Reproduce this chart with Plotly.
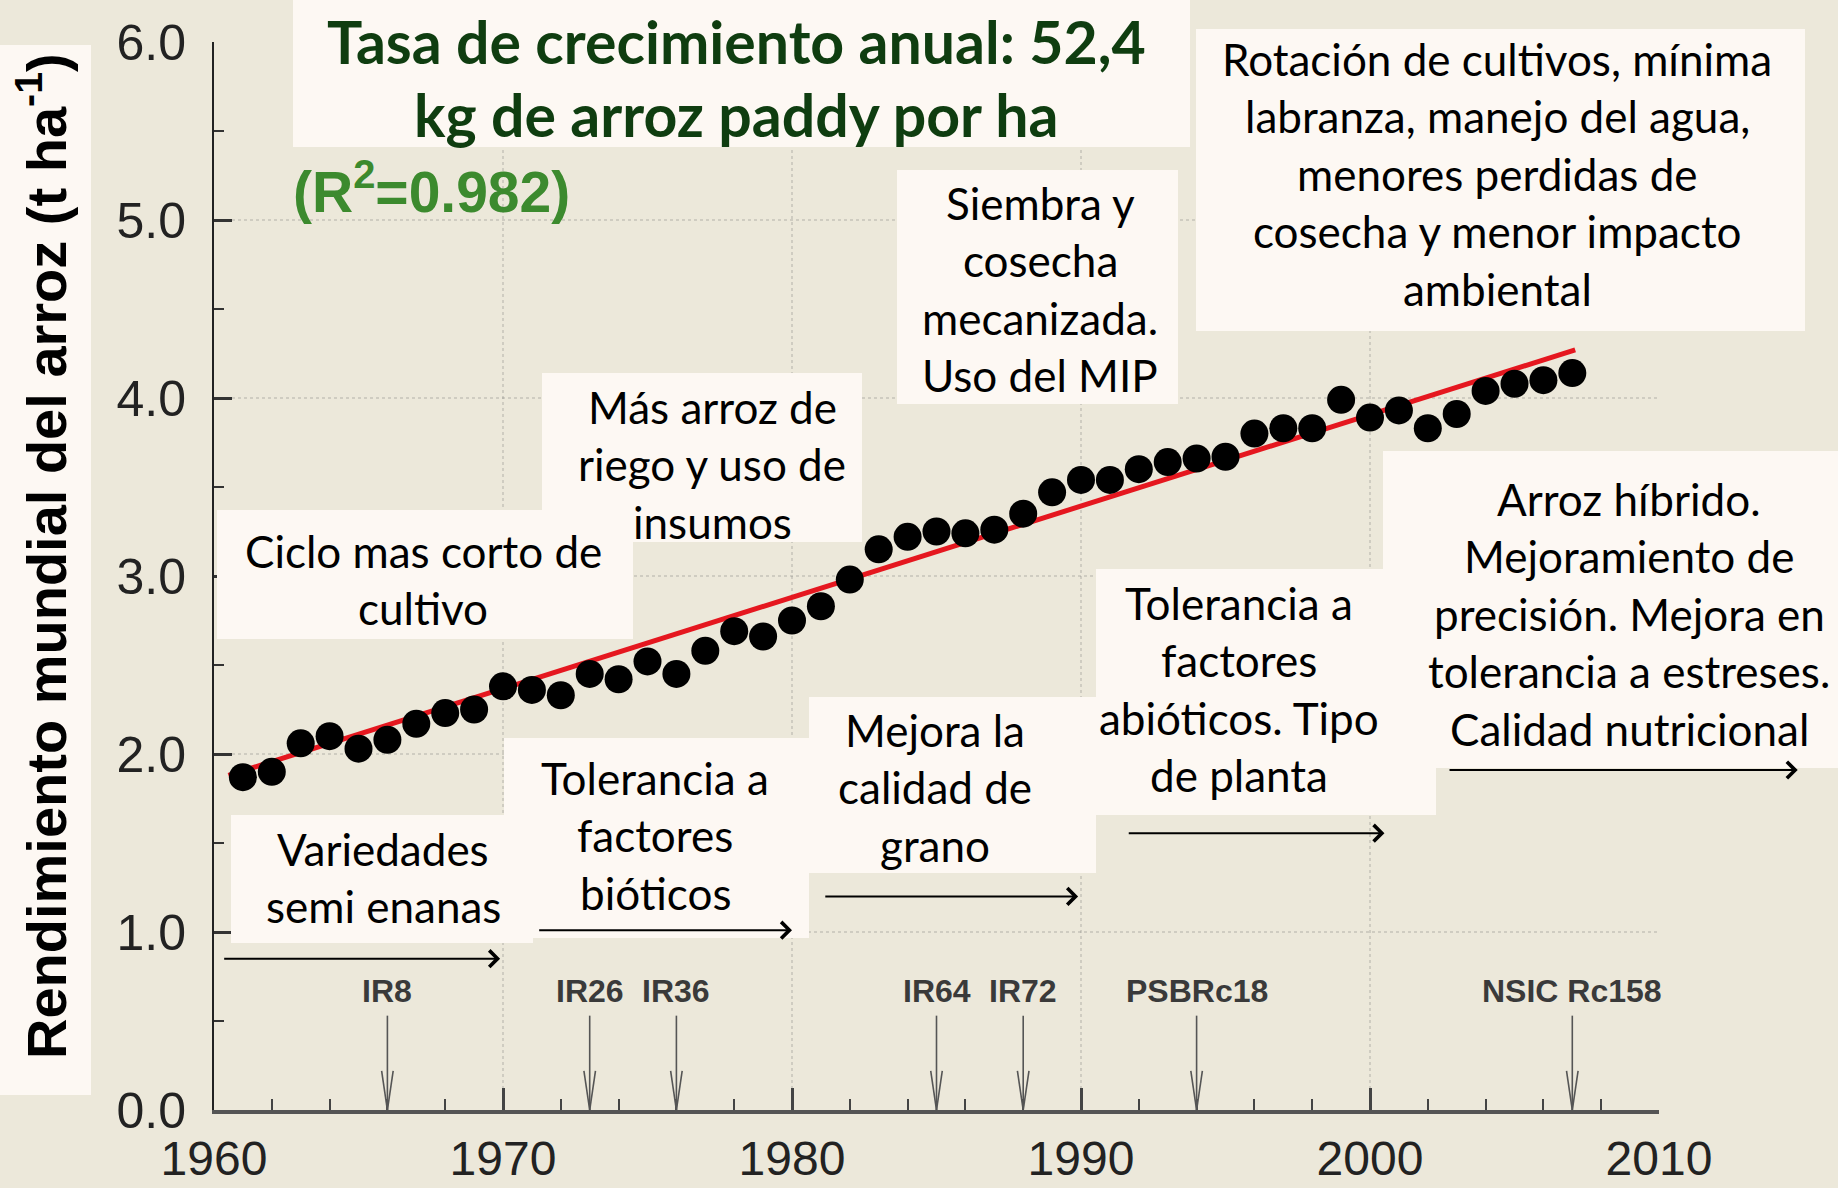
import plotly.graph_objects as go

# ---------------- data ----------------
years = list(range(1961, 2008))
yield_t_ha = [1.87, 1.90, 2.06, 2.10, 2.03, 2.08, 2.17, 2.23, 2.25, 2.38,
              2.36, 2.33, 2.45, 2.42, 2.52, 2.45, 2.58, 2.69, 2.66, 2.75,
              2.83, 2.98, 3.15, 3.22, 3.25, 3.24, 3.26, 3.35, 3.47, 3.54,
              3.54, 3.60, 3.64, 3.66, 3.67, 3.80, 3.83, 3.83, 3.99, 3.89,
              3.93, 3.83, 3.91, 4.04, 4.08, 4.10, 4.14]

trend_years = [1960.5, 2007.1]
trend_values = [1.88, 4.27]

variety_names = ["IR8", "IR26", "IR36", "IR64", "IR72", "PSBRc18", "NSIC Rc158"]
variety_years = [1966, 1973, 1976, 1985, 1988, 1994, 2007]

period_start_years = [1960.3, 1971.2, 1981.1, 1991.6, 2002.7]
period_end_years = [1969.9, 1980.0, 1989.9, 2000.5, 2014.8]
period_levels = [0.85, 1.01, 1.20, 1.555, 1.91]

title_lines = ["Tasa de crecimiento anual: 52,4", "kg de arroz paddy por ha"]
r2_text = "(R<sup>2</sup>=0.982)"
y_title = "Rendimiento mundial del arroz (t ha<sup>-1</sup>)"

block_texts = [
    ["Rotación de cultivos, mínima", "labranza, manejo del agua,", "menores perdidas de",
     "cosecha y menor impacto", "ambiental"],
    ["Siembra y", "cosecha", "mecanizada.", "Uso del MIP"],
    ["Más arroz de", "riego y uso de", "insumos"],
    ["Ciclo mas corto de", "cultivo"],
    ["Variedades", "semi enanas"],
    ["Tolerancia a", "factores", "bióticos"],
    ["Mejora la", "calidad de", "grano"],
    ["Tolerancia a", "factores", "abióticos. Tipo", "de planta"],
    ["Arroz híbrido.", "Mejoramiento de", "precisión. Mejora en",
     "tolerancia a estreses.", "Calidad nutricional"],
]

# ---------------- layout helpers (pixel -> paper) ----------------
W, H = 1838, 1188
ML, MR, MT, MB = 214, 179, 42, 78
PW, PH = W - ML - MR, H - MT - MB


def px(x):
    return (x - ML) / PW


def py(y):
    return (H - MB - y) / PH


BG = "#ECE8DA"
BOX = "#FDF8F3"

# block centers (x, first-line y) in pixels
block_pos = [(1497, 59), (1040, 203), (712, 407), (423, 551), (383, 849),
             (655, 778), (935, 730), (1239, 603), (1629, 499)]
LINE_PITCH = 57.4

boxes = [(293, 0, 1190, 147),     # title
         (0, 45, 91, 1095),       # y title
         (1196, 29, 1805, 331),
         (897, 170, 1178, 404),
         (542, 373, 862, 542),
         (217, 510, 633, 639),
         (231, 815, 533, 943),
         (504, 738, 809, 938),
         (809, 697, 1096, 873),
         (1096, 569, 1436, 815),
         (1383, 451, 1838, 768)]

fig = go.Figure()
fig.add_trace(go.Scatter(x=trend_years, y=trend_values, mode="lines",
                         line=dict(color="#E5171F", width=5), hoverinfo="skip"))
fig.add_trace(go.Scatter(x=years, y=yield_t_ha, mode="markers",
                         marker=dict(size=28, color="black"), cliponaxis=False))

shapes = []
for (x0, y0, x1, y1) in boxes:
    shapes.append(dict(type="rect", xref="paper", yref="paper",
                       x0=px(x0), x1=px(x1), y0=py(y1), y1=py(y0),
                       fillcolor=BOX, line=dict(width=0), layer="above"))

ARROW_TOP, HEAD_H, HEAD_W = 0.53, 0.22, 0.2
for vy in variety_years:
    ln = dict(color="#555555", width=1.6)
    shapes.append(dict(type="line", xref="x", yref="y", x0=vy, x1=vy,
                       y0=ARROW_TOP, y1=0, line=ln, layer="above"))
    shapes.append(dict(type="line", xref="x", yref="y", x0=vy - HEAD_W, x1=vy,
                       y0=HEAD_H, y1=0, line=ln, layer="above"))
    shapes.append(dict(type="line", xref="x", yref="y", x0=vy + HEAD_W, x1=vy,
                       y0=HEAD_H, y1=0, line=ln, layer="above"))

annotations = []
for name, vy in zip(variety_names, variety_years):
    annotations.append(dict(x=vy, y=0.67, xref="x", yref="y", text="<b>" + name + "</b>",
                            showarrow=False, xanchor="center", yanchor="middle",
                            font=dict(family="Arial", size=32, color="#3a3a3a")))

for xs, xe, lv in zip(period_start_years, period_end_years, period_levels):
    annotations.append(dict(x=xe, y=lv, ax=xs, ay=lv, xref="x", yref="y",
                            axref="x", ayref="y", text="", showarrow=True,
                            arrowhead=4, arrowsize=1.6, arrowwidth=2,
                            arrowcolor="black", standoff=0, startstandoff=0))

for lines, (cx, cy) in zip(block_texts, block_pos):
    for i, t in enumerate(lines):
        annotations.append(dict(x=px(cx), y=py(cy + i * LINE_PITCH), xref="paper",
                                yref="paper", text=t, showarrow=False,
                                xanchor="center", yanchor="middle",
                                font=dict(family="Lato", size=44, color="black")))

for i, t in enumerate(title_lines):
    annotations.append(dict(x=px(736), y=py(41 + i * 73), xref="paper", yref="paper",
                            text="<b>" + t + "</b>", showarrow=False,
                            xanchor="center", yanchor="middle",
                            font=dict(family="Lato", size=59, color="#0F3D10")))

annotations.append(dict(x=px(431), y=py(188), xref="paper", yref="paper",
                        text="<b>" + r2_text + "</b>", showarrow=False,
                        xanchor="center", yanchor="middle",
                        font=dict(family="Arial", size=57, color="#3C8A2E")))

annotations.append(dict(x=px(42), y=py(556), xref="paper", yref="paper",
                        text="<b>" + y_title + "</b>", showarrow=False, textangle=-90,
                        xanchor="center", yanchor="middle",
                        font=dict(family="Arial", size=56, color="black")))

fig.update_layout(
    width=W, height=H, margin=dict(l=ML, r=MR, t=MT, b=MB, autoexpand=False),
    paper_bgcolor=BG, plot_bgcolor=BG, showlegend=False,
    shapes=shapes, annotations=annotations,
    xaxis=dict(range=[1960, 2010], tick0=1960, dtick=10, ticks="inside", ticklen=22,
               tickwidth=2.5, tickcolor="#444", showline=True, linecolor="#555",
               linewidth=3.5, zeroline=False, showgrid=True, griddash="dot",
               gridcolor="rgba(120,120,120,0.25)", gridwidth=1.5, automargin=False,
               minor=dict(dtick=2, ticks="inside", ticklen=11, tickwidth=2,
                          tickcolor="#444", showgrid=False),
               tickfont=dict(family="Arial", size=48, color="#222"),
               ticklabelstandoff=4),
    yaxis=dict(range=[0, 6], dtick=1, tickformat=".1f", ticks="inside", ticklen=18,
               tickwidth=2.5, tickcolor="#333", showline=True, linecolor="#222",
               linewidth=2, zeroline=False, showgrid=True, griddash="dot",
               gridcolor="rgba(120,120,120,0.25)", gridwidth=1.5, automargin=False,
               minor=dict(dtick=0.5, ticks="inside", ticklen=10, tickwidth=2,
                          tickcolor="#333", showgrid=False),
               tickfont=dict(family="Arial", size=50, color="#222"),
               ticklabelstandoff=16),
)

fig.write_html("out.html", config={"displayModeBar": False},
               post_script="document.body.style.margin='0px';"
                           "document.body.style.overflow='hidden';"
                           "document.body.style.background='" + BG + "';")
